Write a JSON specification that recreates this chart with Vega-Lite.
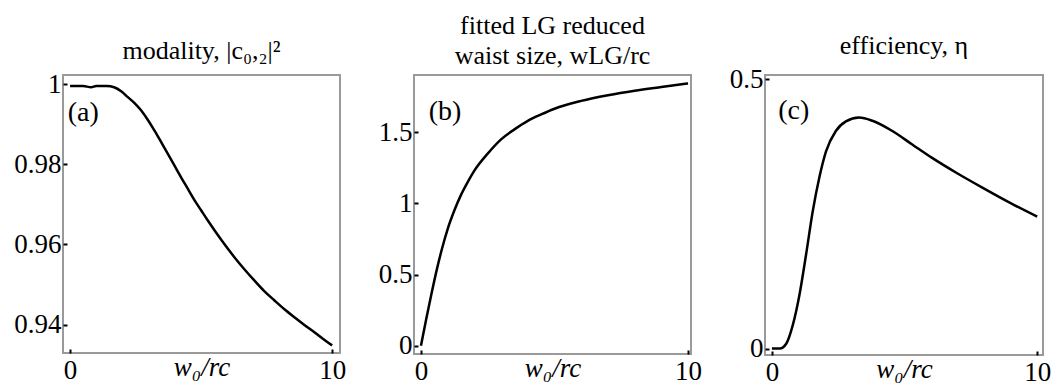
{
  "$schema": "https://vega.github.io/schema/vega-lite/v6.json",
  "background": "white",
  "padding": {"left": 12, "top": 12, "right": 5, "bottom": 5},
  "spacing": 74,
  "bounds": "flush",
  "config": {
    "font": "Liberation Serif",
    "view": {"stroke": "#9a9a9a", "strokeWidth": 2},
    "axis": {
      "grid": false, "domain": false, "tickColor": "#000", "tickSize": -4, "tickWidth": 2,
      "labelFont": "Liberation Serif", "labelFontSize": 27, "labelColor": "#000",
      "titleFont": "Liberation Serif", "titleFontSize": 27, "titleColor": "#000", "titleFontWeight": "normal"
    },
    "title": {"font": "Liberation Serif", "fontSize": 26, "fontWeight": "normal", "color": "#000", "offset": 6, "lineHeight": 30}
  },
  "datasets": {
    "a": [
      {"x": 0, "y": 0.9995}, {"x": 0.5, "y": 0.9995}, {"x": 0.8, "y": 0.9992}, {"x": 1.0, "y": 0.9995},
      {"x": 1.4, "y": 0.9995}, {"x": 1.68, "y": 0.9992}, {"x": 1.95, "y": 0.9982}, {"x": 2.19, "y": 0.9968},
      {"x": 2.45, "y": 0.9953}, {"x": 2.7, "y": 0.9935}, {"x": 2.95, "y": 0.9912}, {"x": 3.21, "y": 0.9885},
      {"x": 3.46, "y": 0.9857}, {"x": 3.72, "y": 0.9827}, {"x": 3.98, "y": 0.9797}, {"x": 4.23, "y": 0.9768},
      {"x": 4.49, "y": 0.9739}, {"x": 4.74, "y": 0.9711}, {"x": 5.0, "y": 0.9685}, {"x": 5.25, "y": 0.966},
      {"x": 5.76, "y": 0.9612}, {"x": 6.27, "y": 0.9568}, {"x": 6.65, "y": 0.9538}, {"x": 7.03, "y": 0.951},
      {"x": 7.4, "y": 0.9484}, {"x": 7.8, "y": 0.946}, {"x": 8.18, "y": 0.9438}, {"x": 8.56, "y": 0.9418},
      {"x": 8.94, "y": 0.9399}, {"x": 9.32, "y": 0.9381}, {"x": 9.66, "y": 0.9364}, {"x": 10.0, "y": 0.9348}
    ],
    "b": [
      {"x": 0, "y": 0}, {"x": 0.2, "y": 0.19}, {"x": 0.4, "y": 0.37}, {"x": 0.6, "y": 0.54}, {"x": 0.8, "y": 0.69},
      {"x": 1.0, "y": 0.82}, {"x": 1.25, "y": 0.95}, {"x": 1.5, "y": 1.06}, {"x": 1.75, "y": 1.15}, {"x": 2.0, "y": 1.23},
      {"x": 2.5, "y": 1.35}, {"x": 3.0, "y": 1.45}, {"x": 3.5, "y": 1.52}, {"x": 4.0, "y": 1.58}, {"x": 4.5, "y": 1.625},
      {"x": 5.0, "y": 1.665}, {"x": 6.0, "y": 1.72}, {"x": 7.0, "y": 1.76}, {"x": 8.0, "y": 1.792}, {"x": 9.0, "y": 1.818},
      {"x": 10.0, "y": 1.843}
    ],
    "c": [
      {"x": 0, "y": 0}, {"x": 0.3, "y": 0.0}, {"x": 0.54, "y": 0.009}, {"x": 0.79, "y": 0.044}, {"x": 1.04, "y": 0.1},
      {"x": 1.29, "y": 0.175}, {"x": 1.54, "y": 0.255}, {"x": 1.79, "y": 0.318}, {"x": 2.04, "y": 0.366},
      {"x": 2.41, "y": 0.404}, {"x": 2.79, "y": 0.422}, {"x": 3.29, "y": 0.429}, {"x": 3.79, "y": 0.423},
      {"x": 4.54, "y": 0.404}, {"x": 5.29, "y": 0.379}, {"x": 6.04, "y": 0.354}, {"x": 7.0, "y": 0.325},
      {"x": 8.0, "y": 0.297}, {"x": 9.0, "y": 0.27}, {"x": 10.0, "y": 0.245}
    ],
    "lab_a": [{"x": -0.09, "y": 0.9928, "t": "(a)"}],
    "lab_b": [{"x": 0.29, "y": 1.64, "t": "(b)"}],
    "lab_c": [{"x": 0.24, "y": 0.441, "t": "(c)"}]
  },
  "hconcat": [
    {
      "width": 277, "height": 278,
      "title": "modality, |c₀,₂|²",
      "layer": [
        {
          "data": {"name": "a"},
          "mark": {"type": "line", "color": "#000", "strokeWidth": 2.5, "clip": true, "interpolate": "monotone"},
          "encoding": {
            "x": {"field": "x", "type": "quantitative", "scale": {"domain": [-0.27, 10.3], "nice": false, "zero": false},
                  "axis": {"values": [0, 10], "title": "w₀/rc", "titleFontStyle": "italic", "titlePadding": -29, "labelPadding": 8, "labelFlush": false}},
            "y": {"field": "y", "type": "quantitative", "scale": {"domain": [0.9329, 1.00225], "nice": false, "zero": false},
                  "axis": {"values": [0.94, 0.96, 0.98, 1], "format": "~g", "title": null, "labelPadding": 6}}
          }
        },
        {
          "data": {"name": "lab_a"},
          "mark": {"type": "text", "align": "left", "baseline": "middle", "fontSize": 28, "font": "Liberation Serif"},
          "encoding": {"x": {"field": "x", "type": "quantitative"}, "y": {"field": "y", "type": "quantitative"}, "text": {"field": "t"}}
        }
      ]
    },
    {
      "width": 277, "height": 279,
      "title": {"text": ["fitted LG reduced", "waist size, wLG/rc"]},
      "layer": [
        {
          "data": {"name": "b"},
          "mark": {"type": "line", "color": "#000", "strokeWidth": 2.5, "clip": true, "interpolate": "monotone"},
          "encoding": {
            "x": {"field": "x", "type": "quantitative", "scale": {"domain": [-0.26, 10.11], "nice": false, "zero": false},
                  "axis": {"values": [0, 10], "title": "w₀/rc", "titleFontStyle": "italic", "titlePadding": -29, "labelPadding": 8, "labelFlush": false}},
            "y": {"field": "y", "type": "quantitative", "scale": {"domain": [-0.058, 1.902], "nice": false, "zero": false},
                  "axis": {"values": [0, 0.5, 1, 1.5], "format": "~g", "title": null, "labelPadding": 6}}
          }
        },
        {
          "data": {"name": "lab_b"},
          "mark": {"type": "text", "align": "left", "baseline": "middle", "fontSize": 28, "font": "Liberation Serif"},
          "encoding": {"x": {"field": "x", "type": "quantitative"}, "y": {"field": "y", "type": "quantitative"}, "text": {"field": "t"}}
        }
      ]
    },
    {
      "width": 278, "height": 280,
      "title": "efficiency, η",
      "layer": [
        {
          "data": {"name": "c"},
          "mark": {"type": "line", "color": "#000", "strokeWidth": 2.5, "clip": true, "interpolate": "monotone"},
          "encoding": {
            "x": {"field": "x", "type": "quantitative", "scale": {"domain": [-0.26, 10.22], "nice": false, "zero": false},
                  "axis": {"values": [0, 10], "title": "w₀/rc", "titleFontStyle": "italic", "titlePadding": -29, "labelPadding": 8, "labelFlush": false}},
            "y": {"field": "y", "type": "quantitative", "scale": {"domain": [-0.012, 0.508], "nice": false, "zero": false},
                  "axis": {"values": [0, 0.5], "format": "~g", "title": null, "labelPadding": 6}}
          }
        },
        {
          "data": {"name": "lab_c"},
          "mark": {"type": "text", "align": "left", "baseline": "middle", "fontSize": 28, "font": "Liberation Serif"},
          "encoding": {"x": {"field": "x", "type": "quantitative"}, "y": {"field": "y", "type": "quantitative"}, "text": {"field": "t"}}
        }
      ]
    }
  ]
}
